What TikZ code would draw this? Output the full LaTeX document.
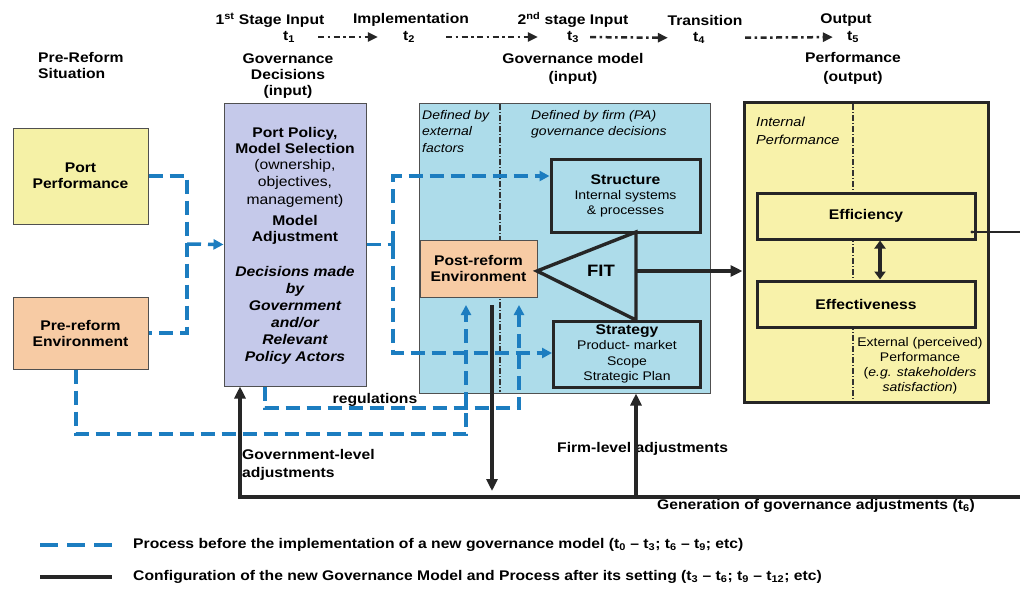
\documentclass[tikz,border=0pt]{standalone}
\usepackage{fontspec}
\setmainfont{Liberation Sans}[FakeStretch=1.12]
\usetikzlibrary{arrows.meta}
\definecolor{ppy}{HTML}{F5F1A6}
\definecolor{pery}{HTML}{F8F2AA}
\definecolor{porange}{HTML}{F7CBA4}
\definecolor{lav}{HTML}{C5C9EA}
\definecolor{midblue}{HTML}{ADDCEA}
\definecolor{dblue}{HTML}{1C7DC0}
\definecolor{bordergray}{HTML}{505050}
\tikzset{
 tb/.style={font=\fontsize{14}{16}\selectfont\bfseries, align=center, inner sep=0pt},
 tr/.style={font=\fontsize{14}{17.5}\selectfont, align=center, inner sep=0pt},
 box/.style={draw=bordergray, line width=1pt, inner sep=0pt},
 thickbox/.style={draw=black!85, line width=3pt, inner sep=0pt},
 bd/.style={draw=dblue, line width=3.5pt, dash pattern=on 14pt off 7pt},
 bda/.style={bd, -{Triangle[length=10pt,width=10pt]}},
 blk/.style={draw=black!85, line width=3.4pt},
 blka/.style={blk, -{Triangle[length=12pt,width=11pt]}},
 dd/.style={draw=black!80, line width=1.2pt, dash pattern=on 6pt off 2pt on 1pt off 2pt},
 tl/.style={draw=black!85, line width=2.5pt, dash pattern=on 6pt off 3.5pt on 2.5pt off 3.5pt, -{Triangle[length=10pt,width=9pt]}},
}
\begin{document}
\begin{tikzpicture}[x=1pt,y=-1pt]
\useasboundingbox (0,0) rectangle (1020,590);
\fill[white] (0,0) rectangle (1020,590);

% ---------- timeline ----------
\node[tb] (l1) at (270,20) {1\textsuperscript{st} Stage Input};
\node[tb] (l2) at (411,20) {Implementation};
\node[tb] (l3) at (573,20) {2\textsuperscript{nd} stage Input};
\node[tb] (l4) at (705,20) {Transition};
\node[tb] (l5) at (846,20) {Output};
\node[tb] (t1) at (289,37) {t\textsubscript{1}};
\node[tb] (t2) at (409,37) {t\textsubscript{2}};
\node[tb] (t3) at (573,37) {t\textsubscript{3}};
\node[tb] (t4) at (699,38) {t\textsubscript{4}};
\node[tb] (t5) at (853,37) {t\textsubscript{5}};
\draw[tl, shorten <=23pt, shorten >=25pt] (t1.east) -- (t2.west);
\draw[tl, shorten <=31pt, shorten >=29pt] (t2.east) -- (t3.west);
\draw[tl, shorten <=11pt, shorten >=25pt] (t3.east) -- (t4.west);
\draw[tl, shorten <=40pt, shorten >=14pt] (t4.east) -- (t5.west);

\node[tb, align=left, anchor=west] (situ) at (38,65) {Pre-Reform\\Situation};
\node[tb] (gdec) at (288,76) {Governance\\Decisions\\(input)};
\node[tb, font=\fontsize{14}{18}\selectfont\bfseries] (gmod) at (573,69) {Governance model\\(input)};
\node[tb, font=\fontsize{14}{19}\selectfont\bfseries] (perfo) at (853,68) {Performance\\(output)};

% ---------- left boxes ----------
\node[box, fill=ppy, minimum width=135pt, minimum height=96pt, tb] (pp) at (80.5,176) {Port\\Performance};
\node[box, fill=porange, minimum width=135pt, minimum height=72pt, tb] (pre) at (80.5,333) {Pre-reform\\Environment};

% ---------- policy box ----------
\node[box, fill=lav, minimum width=142pt, minimum height=283pt] (pol) at (295,244.5) {};
\node[tb] (polA) at (295,140) {Port Policy,\\Model Selection};
\node[tr] (polB) at (295,183) {(ownership,\\objectives,\\management)};
\node[tb] (polC) at (295,230) {Model\\Adjustment};
\node[tb, font=\fontsize{14}{17}\selectfont\bfseries\itshape] (polD) at (295,315.5) {Decisions made\\by\\Government\\and/or\\Relevant\\Policy Actors};

% ---------- middle box ----------
\node[box, fill=midblue, minimum width=291pt, minimum height=290pt] (mid) at (564.5,248) {};
\draw[dd] (500,104) -- (500,392);
\node[anchor=north west, align=left, inner sep=0pt, font=\fontsize{12.5}{16.5}\selectfont\itshape] (ext) at (422,110) {Defined by\\external\\factors};
\node[anchor=north west, align=left, inner sep=0pt, font=\fontsize{12.5}{16.5}\selectfont\itshape] (firm) at (531,110) {Defined by firm (PA)\\governance decisions};
\node[thickbox, fill=midblue, minimum width=149pt, minimum height=73pt, align=center, font=\fontsize{12.5}{15}\selectfont] (str) at (625.5,195.5) {{\fontsize{14}{15}\selectfont\bfseries Structure}\\Internal systems\\\& processes};
\node[box, fill=porange, minimum width=117pt, minimum height=57pt, tb] (post) at (478.5,268.5) {Post-reform\\Environment};
\node[thickbox, fill=midblue, minimum width=147pt, minimum height=66pt, align=center, font=\fontsize{12.5}{15.5}\selectfont] (strat) at (627,354) {{\fontsize{14}{15}\selectfont\bfseries Strategy}\\Product- market\\Scope\\Strategic Plan};
\coordinate (fapex) at (537,271);
\coordinate (ftop) at (636,232);
\coordinate (fbot) at (636,320);
\draw[blk, line join=miter] (fapex) -- (ftop) -- (fbot) -- cycle;
\node[tb, font=\fontsize{16.5}{18}\selectfont\bfseries] (fit) at (601,271) {FIT};

% ---------- right box ----------
\node[thickbox, fill=pery, minimum width=244pt, minimum height=300pt] (perf) at (866,252) {};
\draw[dd] (853,104) -- (853,400);
\node[anchor=north west, align=left, inner sep=0pt, font=\fontsize{13}{17.5}\selectfont\itshape] (intp) at (756,117) {Internal\\Performance};
\node[thickbox, fill=pery, minimum width=218pt, minimum height=46pt, tb] (eff) at (866,216) {Efficiency};
\node[thickbox, fill=pery, minimum width=218pt, minimum height=46pt, tb] (effv) at (866,304) {Effectiveness};
\node[align=center, inner sep=0pt, font=\fontsize{12.5}{15}\selectfont] (extp) at (920,366) {External (perceived)\\Performance\\(\textit{e.g. stakeholders}\\\textit{satisfaction})};
\draw[blk, line width=3.4pt, {Triangle[length=8pt,width=11pt]}-{Triangle[length=8pt,width=11pt]}] (eff.south -| 880,0) -- (effv.north -| 880,0);
\coordinate (effo) at (972,232);
\coordinate (effr) at (1020,232);
\draw[draw=black!85, line width=2.2pt] (effo) -- (effr);
\fill[black!85] (effo) circle (1.6pt);

% FIT -> performance
\draw[blka] (ftop |- fit) -- (perf.west |- fit);

% ---------- blue dashed connections ----------
\coordinate (jx) at (187,244);
\draw[bd] (pp.east) -- (pp.east -| jx) -- (pre.east -| jx) -- (pre.east);
\draw[bda] (jx) -- (pol.west);
\coordinate (j2t) at (393,176);
\coordinate (j2b) at (393,353);
\draw[bd] (pol.east) -- (pol.east -| j2t);
\draw[bda] (pol.east -| j2t) -- (j2t) -- (j2t -| str.west);
\draw[bda] (pol.east -| j2t) -- (j2b) -- (j2b -| strat.west);
\coordinate (r1) at (265,408);
\coordinate (r2) at (519,408);
\coordinate (rt) at (519,305);
\draw[bda] (r1 |- pol.south) -- (r1) -- (r2) -- (rt);
\coordinate (p1) at (76,434);
\coordinate (p2) at (466,434);
\coordinate (et) at (466,305);
\draw[bda] (p1 |- pre.south) -- (p1) -- (p2) -- (et);
\node[tb] (reg) at (375,400) {regulations};

% ---------- black feedback ----------
\node[tb, align=left, anchor=west, font=\fontsize{14}{18}\selectfont\bfseries] (gla) at (242,465) {Government-level\\adjustments};
\node[tb, anchor=west] (fla) at (557,449) {Firm-level adjustments};
\node[tb, anchor=west] (gen) at (657,506) {Generation of governance adjustments (t\textsubscript{6})};
\coordinate (rb) at (1020,497);
\coordinate (gl) at (240,497);
\coordinate (fl) at (636,497);
\draw[blka] (rb) -- (gl) -- (gl |- pol.south);
\draw[blka] (fl) -- (fl |- mid.south);
\coordinate (da1) at (492,305);
\coordinate (da2) at (492,491);
\draw[blka] (da1) -- (da2);

% ---------- legend ----------
\coordinate (la1) at (40,545);
\coordinate (la2) at (112,545);
\coordinate (lb1) at (40,577);
\coordinate (lb2) at (112,577);
\draw[draw=dblue, line width=3.5pt, dash pattern=on 18pt off 9pt] (la1) -- (la2);
\draw[draw=black!85, line width=3.4pt] (lb1) -- (lb2);
\node[tb, anchor=west, font=\fontsize{14}{15}\selectfont\bfseries] (leg1) at (133,545) {Process before the implementation of a new governance model (t\textsubscript{0} – t\textsubscript{3}; t\textsubscript{6} – t\textsubscript{9}; etc)};
\node[tb, anchor=west, font=\fontsize{14}{15}\selectfont\bfseries] (leg2) at (133,577) {Configuration of the new Governance Model and Process after its setting (t\textsubscript{3} – t\textsubscript{6}; t\textsubscript{9} – t\textsubscript{12}; etc)};
\end{tikzpicture}
\end{document}
